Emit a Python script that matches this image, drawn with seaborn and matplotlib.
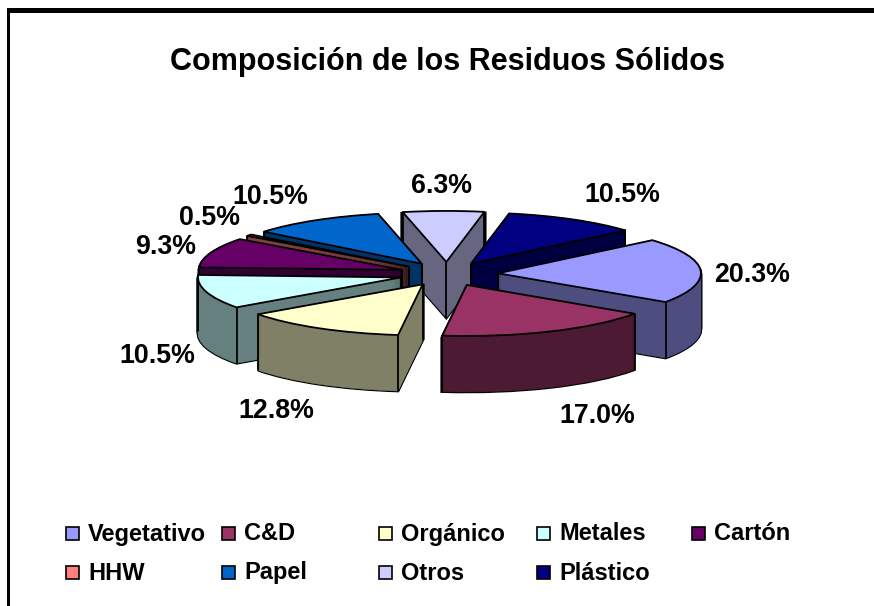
import numpy as np
import matplotlib
matplotlib.use("Agg")
import matplotlib.pyplot as plt
import seaborn as sns

# Composition data
categories = ["Vegetativo", "C&D", "Orgánico", "Metales", "Cartón", "HHW", "Papel", "Otros", "Plástico"]
values = [20.3, 17.0, 12.8, 10.5, 9.3, 0.5, 10.5, 6.3, 10.5]
colors = ["#9999FF", "#993366", "#FFFFCC", "#CCFFFF", "#660066", "#FF8080", "#0066CC", "#CCCCFF", "#000080"]
title = "Composición de los Residuos Sólidos"

# Label centres in pixels, same order as values
label_x = [752, 597, 276, 157, 166, 209, 270, 441, 622]
label_y = [275, 416, 411, 356, 247, 218, 197, 186, 195]

W, H = 874, 606
CX, CY = 447, 274     # pie centre, pixels
RX, RY = 203, 51      # ellipse radii, pixels
DEPTH = 56
BURST = [51, 48, 48, 48, 48, 48, 48, 48, 48]
k = RX / RY           # data units per vertical pixel

sns.set_theme(style="white")
plt.rcParams["font.family"] = ["Liberation Sans", "DejaVu Sans"]
plt.rcParams["font.weight"] = "bold"
plt.rcParams["text.color"] = "black"

palette = sns.color_palette(colors)
sides = [tuple(c * 0.5 for c in col) for col in palette]

fig = plt.figure(figsize=(W / 100, H / 100), dpi=100)
ax = fig.add_axes([0, 0, 1, 1])


def slices(drop):
    wedges, _ = ax.pie(values, explode=BURST, radius=RX,
                       center=(CX, (H - CY - drop) * k), startangle=40.5,
                       counterclock=False, frame=True)
    return wedges


# Top faces first, their stacking order gives back-to-front drawing
top = slices(0)
mids = [np.radians((w.theta1 + w.theta2) / 2) for w in top]
order = np.argsort(-np.sin(mids))
rank = {idx: n for n, idx in enumerate(order)}

for i, w in enumerate(top):
    w.set(facecolor=palette[i], edgecolor="black", linewidth=1.3, zorder=rank[i] * 10 + 3)

# Extruded side walls
for drop in range(1, DEPTH + 1):
    for i, w in enumerate(slices(drop)):
        w.set(facecolor="black", edgecolor="black", linewidth=1.9, zorder=rank[i] * 10)
    for i, w in enumerate(slices(drop)):
        w.set(facecolor=sides[i], edgecolor=sides[i], linewidth=0.3, zorder=rank[i] * 10 + 1)

# Vertical edges, only those a viewer can see
for i, w in enumerate(top):
    x0, y0 = w.center
    angles = [np.radians(w.theta1), np.radians(w.theta2)]
    xs = [x0, x0 + RX * np.cos(angles[0]), x0 + RX * np.cos(angles[1])]
    ys = [y0, y0 + RX * np.sin(angles[0]), y0 + RX * np.sin(angles[1])]
    for j, (x, y) in enumerate(zip(xs, ys)):
        extreme = x == min(xs) or x == max(xs)
        if j == 0:
            visible = extreme or np.sin(mids[i]) > 0
        else:
            visible = extreme or np.sin(angles[j - 1]) < 0
        if visible:
            ax.plot([x, x], [y, y - DEPTH * k], color="black", lw=1.3, zorder=rank[i] * 10 + 2)

ax.set_aspect("auto")
ax.set_xlim(0, W)
ax.set_ylim(0, H * k)
ax.axis("off")


def fx(px):
    return px / W


def fy(py):
    return 1 - py / H


fig.text(fx(448), fy(62), title, fontsize=22, fontweight="bold", ha="center", va="center")

for x, y, v in zip(label_x, label_y, values):
    fig.text(fx(x), fy(y), f"{v:.1f}%", fontsize=19.3, fontweight="bold", ha="center", va="center")

# Legend, two rows filled left to right
col_x = [66, 222, 379, 537, 692]
row_y = [534, 573]
for i, name in enumerate(categories):
    x = col_x[i % 5]
    y = row_y[i // 5]
    fig.add_artist(plt.Rectangle((fx(x), fy(y + 6)), 13 / W, 13 / H, transform=fig.transFigure,
                                 facecolor=palette[i], edgecolor="black", linewidth=1.2))
    fig.text(fx(x + 22), fy(y), name, fontsize=17, fontweight="bold", ha="left", va="center")

# Chart frame, only top and left edges show
fig.add_artist(plt.Rectangle((fx(7), fy(13)), (W - 7) / W, 5 / H, transform=fig.transFigure,
                             facecolor="black", edgecolor="none"))
fig.add_artist(plt.Rectangle((fx(7), 0), 3 / W, (H - 8) / H, transform=fig.transFigure,
                             facecolor="black", edgecolor="none"))

fig.savefig("out.png", dpi=100)
